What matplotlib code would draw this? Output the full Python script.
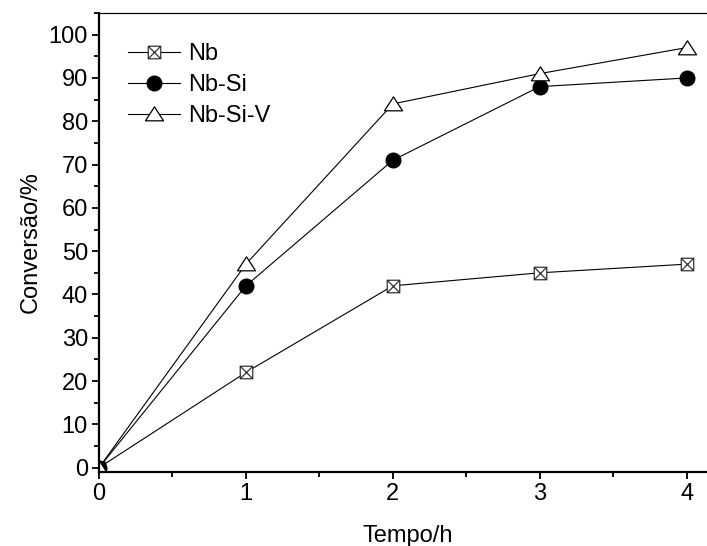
import numpy as np
import matplotlib.pyplot as plt
from matplotlib.path import Path
from matplotlib.ticker import MultipleLocator

plt.rcParams['font.family'] = ['Liberation Sans', 'DejaVu Sans']

# Data
tempo = [0, 1, 2, 3, 4]
nb = [0, 22, 42, 45, 47]
nb_si = [0, 42, 71, 88, 90]
nb_si_v = [0, 47, 84, 91, 97]

# square with a cross inside
box_x = Path([(-1, -1), (1, -1), (1, 1), (-1, 1), (-1, -1),
              (-1, -1), (1, 1), (-1, 1), (1, -1)],
             [Path.MOVETO, Path.LINETO, Path.LINETO, Path.LINETO, Path.CLOSEPOLY,
              Path.MOVETO, Path.LINETO, Path.MOVETO, Path.LINETO])
# slightly flattened open triangle
tri = Path([(-1, -0.7), (1, -0.7), (0, 0.85), (-1, -0.7)],
           [Path.MOVETO, Path.LINETO, Path.LINETO, Path.CLOSEPOLY])

fs = 17

fig = plt.figure(figsize=(7.07, 5.46), dpi=100)
ax = fig.add_axes([99 / 707, 74 / 546, 617 / 707, 459 / 546])

ax.plot(tempo, nb, color='black', lw=0.8, marker=box_x, ms=9,
        mfc='white', mec='#333333', mew=0.9, label='Nb')
ax.plot(tempo, nb_si, color='black', lw=0.8, marker='o', ms=10.5,
        mfc='black', mec='black', label='Nb-Si')
ax.plot(tempo, nb_si_v, color='black', lw=0.8, marker=tri, ms=13,
        mfc='white', mec='black', mew=0.9, label='Nb-Si-V')

ax.set_xlim(0, 4.2)
ax.set_ylim(-1, 105)
ax.xaxis.set_major_locator(MultipleLocator(1))
ax.xaxis.set_minor_locator(MultipleLocator(0.5))
ax.yaxis.set_major_locator(MultipleLocator(10))
ax.yaxis.set_minor_locator(MultipleLocator(5))
ax.tick_params(which='both', direction='out', width=1.3, labelsize=fs,
               top=False, right=False)
ax.tick_params(which='major', length=5, pad=3)
ax.tick_params(which='minor', length=3.5)
for side in ['left', 'bottom']:
    ax.spines[side].set_linewidth(1.6)
ax.spines['top'].set_linewidth(0.9)
ax.spines['right'].set_linewidth(0.9)

ax.set_xlabel('Tempo/h', fontsize=fs, labelpad=14)
ax.set_ylabel('Conversão/%', fontsize=fs, labelpad=5)

ax.legend(loc='upper left', frameon=False, fontsize=fs, numpoints=1,
          handlelength=2.2, handletextpad=0.35, labelspacing=0.38,
          bbox_to_anchor=(0.012, 0.98))

fig.savefig('out.png', dpi=100)
